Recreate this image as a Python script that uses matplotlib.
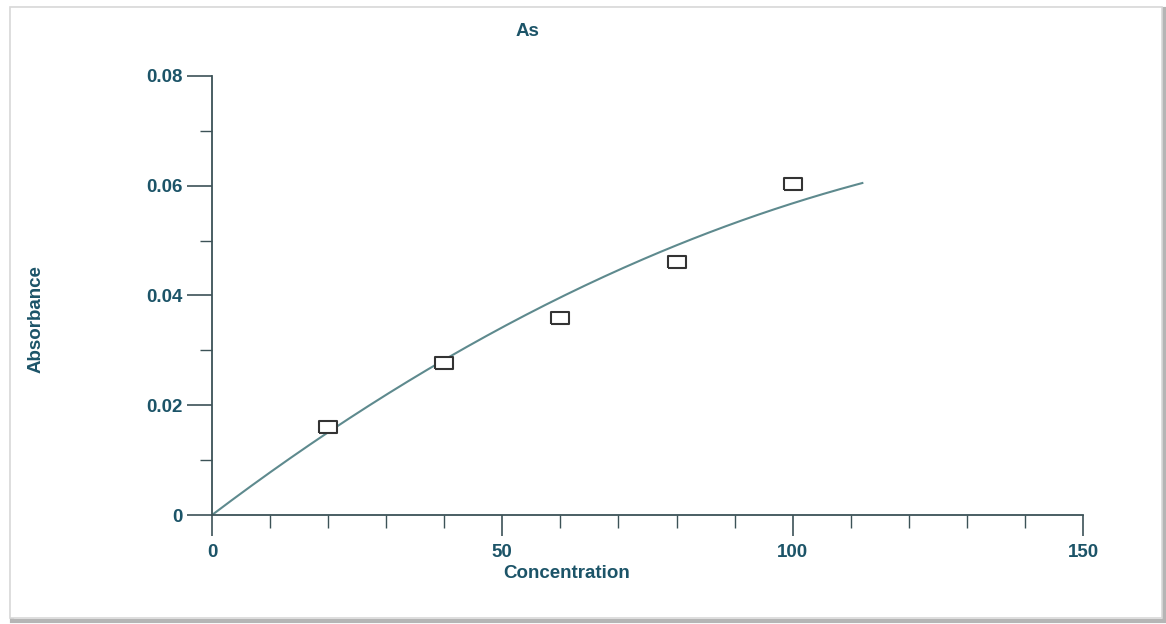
import matplotlib
matplotlib.use("Agg")
import matplotlib.pyplot as plt
import numpy as np
from matplotlib.patches import Rectangle
from matplotlib.ticker import MultipleLocator

# Calibration standards for arsenic
concentration = [20, 40, 60, 80, 100]
absorbance = [0.0160, 0.0277, 0.0359, 0.0461, 0.0603]

# Calibration curve: A = c1*C + c2*C^2, plotted over its working range
curve_coef = [0.000800, -2.32e-6]
curve_range = [0, 112]

title = "As"
x_label = "Concentration"
y_label = "Absorbance"
x_ticks = [0, 50, 100, 150]
y_ticks = [0, 0.02, 0.04, 0.06, 0.08]
y_tick_labels = ["0", "0.02", "0.04", "0.06", "0.08"]

TEXT = "#1c5468"
AXIS = "#3c5257"
CURVE = "#5e8a8e"

plt.rcParams["font.family"] = ["Liberation Sans", "DejaVu Sans"]

W, H = 1166, 624
fig = plt.figure(figsize=(W / 100, H / 100), dpi=100)
fig.patch.set_facecolor("white")

# page frame with a soft shadow
fig.add_artist(Rectangle((12 / W, 1 - 621 / H), 1152 / W, 612 / H,
                         transform=fig.transFigure, facecolor="none",
                         edgecolor="#b5b5b5", lw=3.0, zorder=0))
fig.add_artist(Rectangle((10 / W, 1 - 618 / H), 1152 / W, 611 / H,
                         transform=fig.transFigure, facecolor="white",
                         edgecolor="#d8d8d8", lw=1.2, zorder=0))

ax = fig.add_axes([212 / W, 1 - 515 / H, (1083 - 212) / W, (515 - 76) / H])
ax.set_facecolor("none")

xc = np.linspace(curve_range[0], curve_range[1], 200)
yc = curve_coef[0] * xc + curve_coef[1] * xc ** 2
ax.plot(xc, yc, color=CURVE, lw=1.5, zorder=2)

box = [(-1.5, -1), (1.5, -1), (1.5, 1), (-1.5, 1), (-1.5, -1)]
ax.plot(concentration, absorbance, linestyle="none", marker=box,
        markersize=13.5, markerfacecolor="white", markeredgecolor="#333333",
        markeredgewidth=1.5, zorder=3)

ax.set_xlim(0, 150)
ax.set_ylim(0, 0.08)
ax.set_xticks(x_ticks)
ax.set_xticklabels([str(t) for t in x_ticks])
ax.set_yticks(y_ticks)
ax.set_yticklabels(y_tick_labels)
ax.xaxis.set_minor_locator(MultipleLocator(10))
ax.yaxis.set_minor_locator(MultipleLocator(0.01))

for side in ("top", "right"):
    ax.spines[side].set_visible(False)
for side in ("left", "bottom"):
    ax.spines[side].set_color(AXIS)
    ax.spines[side].set_linewidth(1.3)

ax.tick_params(axis="x", which="major", direction="out", length=15,
               width=1.2, color=AXIS, pad=6, labelsize=13.5, labelcolor=TEXT)
ax.tick_params(axis="x", which="minor", direction="out", length=9,
               width=1.0, color=AXIS)
ax.tick_params(axis="y", which="major", direction="out", length=18,
               width=1.2, color=AXIS, pad=3, labelsize=13.5, labelcolor=TEXT)
ax.tick_params(axis="y", which="minor", direction="out", length=9,
               width=1.0, color=AXIS)
for lab in ax.get_xticklabels() + ax.get_yticklabels():
    lab.set_fontweight("bold")

ax.set_xlabel(x_label, fontsize=13.5, fontweight="bold", color=TEXT)
ax.xaxis.set_label_coords(0.4076, -0.115)
ax.set_ylabel(y_label, fontsize=13.5, fontweight="bold", color=TEXT)
ax.yaxis.set_label_coords(-0.192, 0.447)

fig.text(527 / W, 1 - 31 / H, title, ha="center", va="center",
         fontsize=13.5, fontweight="bold", color=TEXT)

fig.savefig("out.png", dpi=100, facecolor="white")
